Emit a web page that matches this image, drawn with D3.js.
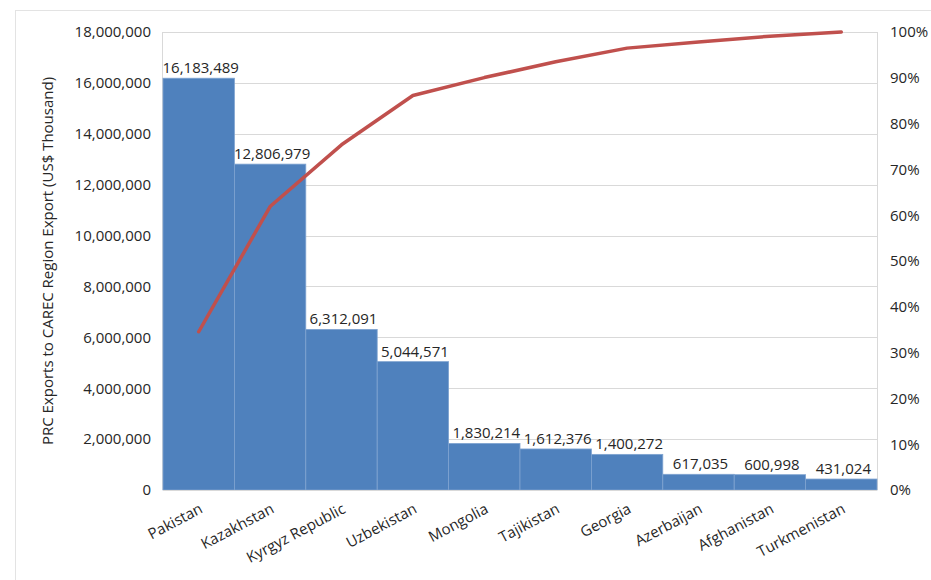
<!DOCTYPE html>
<html>
<head>
<meta charset="utf-8">
<script src="https://cdn.jsdelivr.net/npm/d3@7"></script>
<style>
  body { margin: 0; background: #fff; }
  svg text { font-family: "Open Sans", "Noto Sans", sans-serif; fill: #262626; }
</style>
</head>
<body>
<div id="chart"></div>
<script>
// chart data
var countries = ["Pakistan", "Kazakhstan", "Kyrgyz Republic", "Uzbekistan", "Mongolia",
                 "Tajikistan", "Georgia", "Azerbaijan", "Afghanistan", "Turkmenistan"];
var exportsValues = [16183489, 12806979, 6312091, 5044571, 1830214,
                     1612376, 1400272, 617035, 600998, 431024];
var leftTicks = [0, 2000000, 4000000, 6000000, 8000000, 10000000, 12000000, 14000000, 16000000, 18000000];
var rightTicks = [0, 0.1, 0.2, 0.3, 0.4, 0.5, 0.6, 0.7, 0.8, 0.9, 1];

var W = 931, H = 580;
var margin = {top: 32, left: 163, right: 931 - 877, bottom: 580 - 490};
var iw = W - margin.left - margin.right,
    ih = H - margin.top - margin.bottom;

var svg = d3.select("#chart").append("svg")
            .attr("width", W)
            .attr("height", H);

// outer frame
svg.append("rect")
   .attr("x", 15.5).attr("y", 10.5)
   .attr("width", W).attr("height", H)
   .attr("fill", "none")
   .attr("stroke", "#e3e3e3");

var g = svg.append("g").attr("transform", `translate(${margin.left},${margin.top})`);

var x = d3.scaleBand().domain(countries).range([0, iw]).padding(0);
var y = d3.scaleLinear().domain([0, 18000000]).range([ih, 0]);
var y2 = d3.scaleLinear().domain([0, 1]).range([ih, 0]);

// cumulative share for the pareto line
var total = d3.sum(exportsValues);
var cum = d3.cumsum(exportsValues).map(d => d / total);

// gridlines
g.selectAll(".grid").data(leftTicks.slice(1))
 .enter().append("line")
 .attr("class", "grid")
 .attr("x1", 0).attr("x2", iw)
 .attr("y1", d => Math.round(y(d)) + 0.5)
 .attr("y2", d => Math.round(y(d)) + 0.5)
 .attr("stroke", "#d9d9d9")
 .attr("stroke-width", 1);

// plot borders
g.append("line")
 .attr("x1", iw + 0.5).attr("x2", iw + 0.5)
 .attr("y1", 0).attr("y2", ih)
 .attr("stroke", "#d9d9d9");
g.append("line")
 .attr("x1", -0.5).attr("x2", -0.5)
 .attr("y1", 0).attr("y2", ih)
 .attr("stroke", "#d9d9d9");

// bars
g.selectAll(".bar").data(countries)
 .enter().append("rect")
 .attr("class", "bar")
 .attr("x", d => x(d))
 .attr("y", (d, i) => y(exportsValues[i]))
 .attr("width", x.bandwidth())
 .attr("height", (d, i) => ih - y(exportsValues[i]))
 .attr("fill", "#4f81bd")
 .attr("stroke", "#7fa3d0")
 .attr("stroke-width", 0.8);

// bottom axis line
g.append("line")
 .attr("x1", 0).attr("x2", iw)
 .attr("y1", ih + 0.5).attr("y2", ih + 0.5)
 .attr("stroke", "#d9d9d9");

// value labels
g.selectAll(".vlabel").data(countries)
 .enter().append("text")
 .attr("class", "vlabel")
 .attr("x", d => x(d) + x.bandwidth() / 2 + 2)
 .attr("y", (d, i) => y(exportsValues[i]) - 5)
 .attr("text-anchor", "middle")
 .style("font-size", "15px")
 .text((d, i) => d3.format(",")(exportsValues[i]));

// pareto line
var line = d3.line()
             .x((d, i) => x(countries[i]) + x.bandwidth() / 2)
             .y(d => y2(d));

g.append("path")
 .datum(cum)
 .attr("d", line)
 .attr("fill", "none")
 .attr("stroke", "#c0504d")
 .attr("stroke-width", 3.5)
 .attr("stroke-linejoin", "round")
 .attr("stroke-linecap", "round");

// left axis
var yAxis = d3.axisLeft(y).tickValues(leftTicks).tickFormat(d3.format(",")).tickSize(0).tickPadding(12);
g.append("g").call(yAxis)
 .call(a => a.select(".domain").remove())
 .selectAll("text").style("font-size", "15px");

// right axis
var yAxis2 = d3.axisRight(y2).tickValues(rightTicks).tickFormat(d3.format(".0%")).tickSize(0).tickPadding(13);
g.append("g").attr("transform", `translate(${iw},0)`).call(yAxis2)
 .call(a => a.select(".domain").remove())
 .selectAll("text").style("font-size", "15px");

// category labels
g.selectAll(".xlabel").data(countries)
 .enter().append("text")
 .attr("class", "xlabel")
 .attr("text-anchor", "end")
 .attr("transform", d => `translate(${x(d) + x.bandwidth() / 2 + 5},${ih + 22}) rotate(-28)`)
 .style("font-size", "15px")
 .text(d => d);

// y title
svg.append("text")
   .attr("transform", `translate(53,${margin.top + ih / 2}) rotate(-90)`)
   .attr("text-anchor", "middle")
   .style("font-size", "15px")
   .text("PRC Exports to CAREC Region Export (US$ Thousand)");
</script>
</body>
</html>
